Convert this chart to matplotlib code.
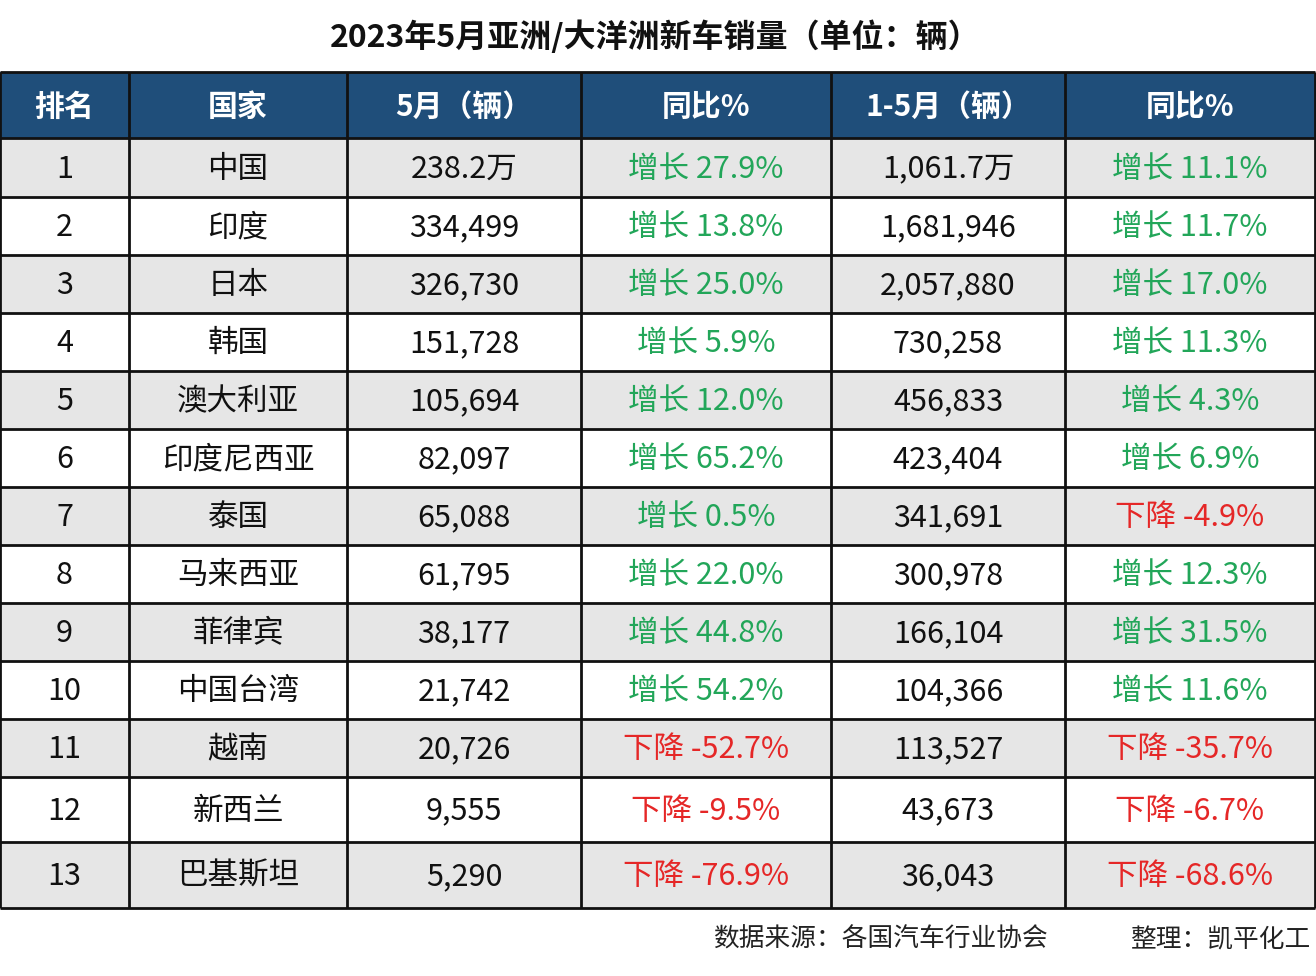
import matplotlib.pyplot as plt
from matplotlib.patches import Rectangle

plt.rcParams['font.family'] = ['Noto Sans CJK SC', 'DejaVu Sans']

title = '2023年5月亚洲/大洋洲新车销量（单位：辆）'
headers = ['排名', '国家', '5月（辆）', '同比%', '1-5月（辆）', '同比%']
ranks = list(range(1, 14))
countries = ['中国', '印度', '日本', '韩国', '澳大利亚', '印度尼西亚', '泰国',
             '马来西亚', '菲律宾', '中国台湾', '越南', '新西兰', '巴基斯坦']
may_sales = ['238.2万', '334,499', '326,730', '151,728', '105,694', '82,097', '65,088',
             '61,795', '38,177', '21,742', '20,726', '9,555', '5,290']
may_yoy = [27.9, 13.8, 25.0, 5.9, 12.0, 65.2, 0.5, 22.0, 44.8, 54.2, -52.7, -9.5, -76.9]
ytd_sales = ['1,061.7万', '1,681,946', '2,057,880', '730,258', '456,833', '423,404', '341,691',
             '300,978', '166,104', '104,366', '113,527', '43,673', '36,043']
ytd_yoy = [11.1, 11.7, 17.0, 11.3, 4.3, 6.9, -4.9, 12.3, 31.5, 11.6, -35.7, -6.7, -68.6]
source = '数据来源：各国汽车行业协会'
editor = '整理：凯平化工'

# layout in pixels
col_edges = [0, 129, 347, 581, 831, 1065, 1315]
row_edges = [72, 138, 197, 255, 313, 371, 429, 487, 545, 603, 661, 719, 777, 842, 908]
text_dy = 1.5  # text sits a touch low in the reference

header_bg = '#1F4E7A'
gray_bg = '#E6E6E6'
green = '#22A659'
red = '#E52727'

def yoy_text(v):
    if v >= 0:
        return '增长 %.1f%%' % v, green
    return '下降 %.1f%%' % v, red

fig = plt.figure(figsize=(13.16, 9.76), dpi=100)
ax = fig.add_axes([0, 0, 1, 1])
ax.set_xlim(0, 1316)
ax.set_ylim(976, 0)
ax.axis('off')

ax.text(655, 37, title, ha='center', va='center', fontsize=23, fontweight='bold', color='#111111')

# header
y0, y1 = row_edges[0], row_edges[1]
ax.add_patch(Rectangle((col_edges[0], y0), col_edges[-1] - col_edges[0], y1 - y0,
                       facecolor=header_bg, edgecolor='none'))
for j, h in enumerate(headers):
    xc = (col_edges[j] + col_edges[j + 1]) / 2
    ax.text(xc, (y0 + y1) / 2 + text_dy, h, ha='center', va='center', fontsize=21.5,
            fontweight='bold', color='white')

# body
for i in range(len(ranks)):
    y0, y1 = row_edges[i + 1], row_edges[i + 2]
    if i % 2 == 0:
        ax.add_patch(Rectangle((col_edges[0], y0), col_edges[-1] - col_edges[0], y1 - y0,
                               facecolor=gray_bg, edgecolor='none'))
    t1, c1 = yoy_text(may_yoy[i])
    t2, c2 = yoy_text(ytd_yoy[i])
    cells = [(str(ranks[i]), '#111111'), (countries[i], '#111111'),
             (may_sales[i], '#111111'), (t1, c1), (ytd_sales[i], '#111111'), (t2, c2)]
    for j, (txt, col) in enumerate(cells):
        xc = (col_edges[j] + col_edges[j + 1]) / 2
        ax.text(xc, (y0 + y1) / 2 + text_dy, txt, ha='center', va='center', fontsize=22, color=col)

# grid lines
for y in row_edges:
    ax.plot([col_edges[0], col_edges[-1]], [y, y], color='#111111', lw=2, solid_capstyle='butt')
for x in col_edges:
    ax.plot([x, x], [row_edges[0], row_edges[-1]], color='#111111', lw=2, solid_capstyle='butt')

ax.text(1048, 940, source, ha='right', va='center', fontsize=18.5, color='#222222')
ax.text(1310, 940, editor, ha='right', va='center', fontsize=18.5, color='#222222')

fig.savefig('out.png', dpi=100)
